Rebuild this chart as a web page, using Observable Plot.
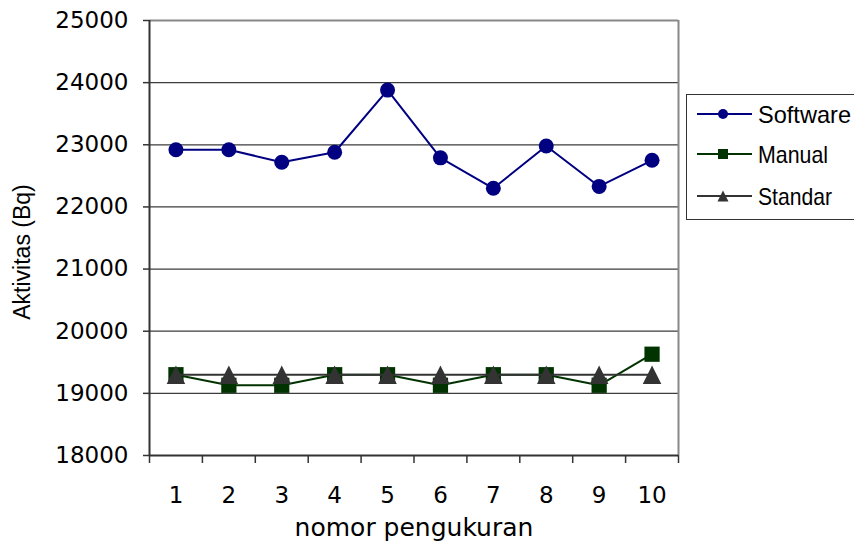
<!DOCTYPE html>
<html><head><meta charset="utf-8">
<script src="https://cdn.jsdelivr.net/npm/d3@7"></script>
<script src="https://cdn.jsdelivr.net/npm/@observablehq/plot@0.6"></script>
<style>
body{margin:0;background:#fff;}
#wrap{position:relative;width:854px;height:547px;overflow:hidden;background:#fff;}
#legend{position:absolute;left:686px;top:94px;}
</style></head><body><div id="wrap"></div>
<script>
const measurements = [1, 2, 3, 4, 5, 6, 7, 8, 9, 10];
const software = [22920, 22920, 22720, 22880, 23880, 22790, 22300, 22980, 22330, 22750];
const manual   = [19300, 19130, 19130, 19300, 19300, 19130, 19300, 19300, 19130, 19630];
const standar  = [19300, 19300, 19300, 19300, 19300, 19300, 19300, 19300, 19300, 19300];
const seriesNames = ["Software", "Manual", "Standar"];
const seriesColors = ["#000080", "#003300", "#333333"];
const yTicks = [18000, 19000, 20000, 21000, 22000, 23000, 24000, 25000];
const xLabel = "nomor pengukuran";
const yLabel = "Aktivitas (Bq)";

const xDomain = [measurements[0] - 0.5, measurements[measurements.length - 1] + 0.5];
const xBounds = measurements.map(m => m - 0.5).concat([xDomain[1]]);

const triangle = {
  draw(ctx, size) {
    const s = Math.sqrt(2 * size);
    ctx.moveTo(0, -s / 2);
    ctx.lineTo(s / 2, s / 2);
    ctx.lineTo(-s / 2, s / 2);
    ctx.closePath();
  }
};

const seriesValues = [software, manual, standar];
const seriesSymbols = ["circle", "square", triangle];
const seriesR = [7.5, 8.6, 7.4];

const seriesMarks = seriesValues.flatMap((vals, k) => {
  const data = measurements.map((m, i) => ({m, v: vals[i]}));
  return [
    Plot.line(data, {x: "m", y: "v", stroke: seriesColors[k], strokeWidth: 2}),
    Plot.dot(data, {x: "m", y: "v", fill: seriesColors[k], symbol: seriesSymbols[k], r: seriesR[k], stroke: "none"})
  ];
});

const chart = Plot.plot({
  width: 854,
  height: 547,
  marginLeft: 149,
  marginRight: 176,
  marginTop: 20,
  marginBottom: 92,
  x: {domain: xDomain},
  y: {domain: [yTicks[0], yTicks[yTicks.length - 1]]},
  style: {background: "#fff", color: "#000", fontFamily: "Liberation Sans, Arial, sans-serif", overflow: "visible"},
  marks: [
    Plot.ruleY(yTicks.slice(1, -1), {stroke: "#3c3c3c", strokeWidth: 1.3}),
    Plot.ruleY([yTicks[yTicks.length - 1]], {stroke: "#888", strokeWidth: 2}),
    Plot.ruleX([xDomain[1]], {stroke: "#888", strokeWidth: 2}),
    Plot.ruleX([xDomain[0]], {stroke: "#333", strokeWidth: 2}),
    Plot.ruleY([yTicks[0]], {stroke: "#333", strokeWidth: 2}),
    Plot.axisY(yTicks, {tickSize: 6, tickPadding: 15, tickFormat: d => String(d), label: null,
      fontSize: 23, fontFamily: "DejaVu Sans", stroke: "#333", strokeWidth: 1.5}),
    Plot.axisX(xBounds, {tickSize: 8, tickFormat: () => "", label: null, stroke: "#333", strokeWidth: 1.5}),
    Plot.axisX(measurements, {tickSize: 0, tickPadding: 31, label: null, fontSize: 23, fontFamily: "DejaVu Sans"}),
    ...seriesMarks,
    Plot.text([xLabel], {frameAnchor: "bottom", textAnchor: "middle", dy: 80, fontSize: 25, fontFamily: "DejaVu Sans", fill: "#000"}),
    Plot.text([yLabel], {frameAnchor: "left", textAnchor: "middle", rotate: -90, dx: -127, dy: 14, fontSize: 23, fontFamily: "Liberation Sans", fill: "#000"})
  ]
});

const wrap = document.getElementById("wrap");
wrap.appendChild(chart);

// legend
const legendRowsY = [20, 60, 102];
const legendTextLen = [93, 70, 74];
const legend = d3.create("svg").attr("id", "legend").attr("width", 168).attr("height", 127);
legend.append("rect").attr("x", 0.5).attr("y", 0.5).attr("width", 200).attr("height", 125)
  .attr("fill", "#fff").attr("stroke", "#333").attr("stroke-width", 1);
const legendSymbols = [d3.symbolCircle, d3.symbolSquare, triangle];
const legendSizes = [Math.PI * 25, 100, 60];
seriesNames.forEach((name, k) => {
  const g = legend.append("g").attr("transform", `translate(0,${legendRowsY[k]})`);
  g.append("line").attr("x1", 11).attr("x2", 66).attr("y1", 0).attr("y2", 0)
    .attr("stroke", seriesColors[k]).attr("stroke-width", 2);
  g.append("path").attr("transform", "translate(37,0)")
    .attr("d", d3.symbol(legendSymbols[k], legendSizes[k])()).attr("fill", seriesColors[k]);
  g.append("text").attr("x", 72).attr("y", 0).attr("dy", "0.36em")
    .attr("font-family", "Liberation Sans, Arial, sans-serif")
    .attr("font-size", 24).attr("fill", "#000")
    .attr("textLength", legendTextLen[k]).attr("lengthAdjust", "spacingAndGlyphs")
    .text(name);
});
wrap.appendChild(legend.node());
</script>
</body></html>
